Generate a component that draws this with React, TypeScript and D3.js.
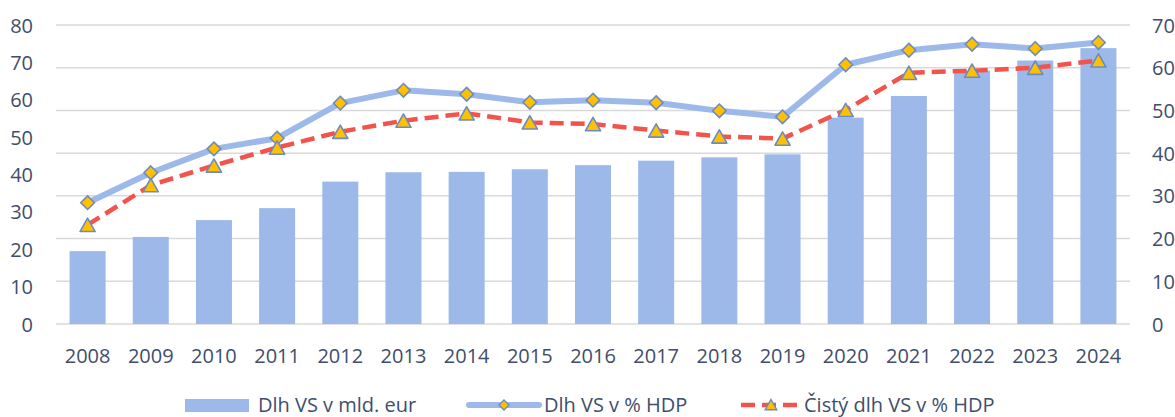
import React from "react";
import * as d3 from "d3";

const years = ["2008","2009","2010","2011","2012","2013","2014","2015","2016","2017","2018","2019","2020","2021","2022","2023","2024"];
const debtBn = [19.5, 23.3, 27.8, 31.0, 38.1, 40.6, 40.7, 41.4, 42.5, 43.7, 44.6, 45.4, 55.2, 61.0, 67.8, 70.5, 73.8];
const debtPct = [28.4, 35.4, 41.0, 43.5, 51.7, 54.7, 53.8, 51.9, 52.4, 51.8, 49.9, 48.5, 60.7, 64.1, 65.5, 64.5, 65.9];
const netDebtPct = [23.2, 32.5, 37.1, 41.3, 45.0, 47.6, 49.3, 47.2, 46.8, 45.3, 43.9, 43.4, 50.1, 58.8, 59.3, 60.0, 61.7];
const leftTicks = [0, 10, 20, 30, 40, 50, 60, 70, 80];
const rightTicks = [0, 10, 20, 30, 40, 50, 60, 70];
const legendLabels = ["Dlh VS v mld. eur", "Dlh VS v % HDP", "Čistý dlh VS v % HDP"];

const W = 1175, H = 417;
const X0 = 56, X1 = 1130, Y0 = 324, Y1 = 25;
const TEXT = "#3F4E6B";
const BAR = "#9CB9E9";
const LINE1 = "#9CB9E9";
const LINE2 = "#F2544B";
const MFILL = "#FFC000";
const MSTROKE = "#6C8BC2";
const FONT = "'Open Sans', 'Noto Sans', sans-serif";

function diamond(cx: number, cy: number, r: number) {
  return `M${cx},${cy - r}L${cx + r},${cy}L${cx},${cy + r}L${cx - r},${cy}Z`;
}
function triangle(cx: number, cy: number, r: number) {
  return `M${cx},${cy - r}L${cx + r * 1.05},${cy + r * 0.85}L${cx - r * 1.05},${cy + r * 0.85}Z`;
}

export default function App() {
  const x = d3.scaleBand<string>().domain(years).range([X0, X1]).paddingInner(0.43).paddingOuter(0.215);
  const xc = d3.scaleBand<string>().domain(years).range([X0, X1]);
  const cx = (y: string) => (xc(y) as number) + xc.bandwidth() / 2;
  const yL = d3.scaleLinear().domain([0, 80]).range([Y0, Y1]);
  const yR = d3.scaleLinear().domain([0, 70]).range([Y0, Y1]);

  const line1 = d3.line<number>().x((_, i) => cx(years[i])).y((d) => yR(d))(debtPct) as string;
  const line2 = d3.line<number>().x((_, i) => cx(years[i])).y((d) => yR(d))(netDebtPct) as string;

  const fs = 20;

  return (
    <svg width={W} height={H} style={{ position: "absolute", left: 0, top: 0, background: "#fff" }} fontFamily={FONT}>
      {rightTicks.map((t) => (
        <line key={"g" + t} x1={X0} x2={X1} y1={yR(t)} y2={yR(t)} stroke="#D9D9D9" strokeWidth={1.5} />
      ))}
      {years.map((yr, i) => (
        <rect key={"b" + yr} x={(x(yr) as number)} width={x.bandwidth()} y={yL(debtBn[i])} height={Y0 - yL(debtBn[i])} fill={BAR} />
      ))}
      <path d={line1} fill="none" stroke={LINE1} strokeWidth={6} strokeLinejoin="round" />
      <path d={line2} fill="none" stroke={LINE2} strokeWidth={4.5} strokeDasharray="14,7" />
      {years.map((yr, i) => (
        <path key={"d" + yr} d={diamond(cx(yr), yR(debtPct[i]), 6.8)} fill={MFILL} stroke={MSTROKE} strokeWidth={1.6} />
      ))}
      {years.map((yr, i) => (
        <path key={"t" + yr} d={triangle(cx(yr), yR(netDebtPct[i]) + 0.5, 7.2)} fill={MFILL} stroke={MSTROKE} strokeWidth={1.6} strokeLinejoin="round" />
      ))}
      {leftTicks.map((t) => (
        <text key={"l" + t} x={33} y={yL(t)} textAnchor="end" dominantBaseline="central" fontSize={fs} fill={TEXT}>{t}</text>
      ))}
      {rightTicks.map((t) => (
        <text key={"r" + t} x={1152} y={yR(t)} textAnchor="start" dominantBaseline="central" fontSize={fs} fill={TEXT}>{t}</text>
      ))}
      {years.map((yr) => (
        <text key={"x" + yr} x={cx(yr)} y={355} textAnchor="middle" dominantBaseline="central" fontSize={fs} fill={TEXT}>{yr}</text>
      ))}
      <g>
        <rect x={185} y={399} width={64} height={13} fill={BAR} />
        <text x={258} y={404} dominantBaseline="central" fontSize={fs} fill={TEXT}>{legendLabels[0]}</text>
        <line x1={469} x2={539} y1={405} y2={405} stroke={LINE1} strokeWidth={6} strokeLinecap="round" />
        <path d={diamond(504, 405, 5)} fill={MFILL} stroke={MSTROKE} strokeWidth={1.4} />
        <text x={544} y={404} dominantBaseline="central" fontSize={fs} fill={TEXT}>{legendLabels[1]}</text>
        <line x1={741} x2={801} y1={405} y2={405} stroke={LINE2} strokeWidth={4.5} strokeDasharray="14,7" />
        <path d={triangle(771, 405, 5.5)} fill={MFILL} stroke={MSTROKE} strokeWidth={1.4} />
        <text x={804} y={404} dominantBaseline="central" fontSize={fs} fill={TEXT}>{legendLabels[2]}</text>
      </g>
    </svg>
  );
}
